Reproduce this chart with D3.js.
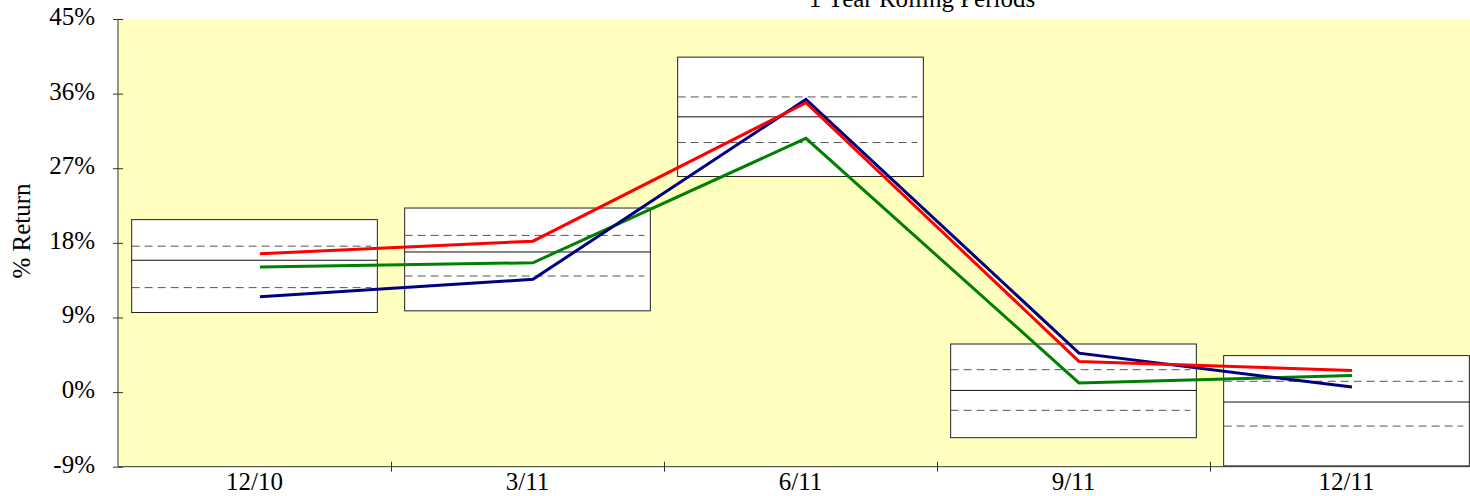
<!DOCTYPE html>
<html>
<head>
<meta charset="utf-8">
<script src="https://cdn.jsdelivr.net/npm/d3@7"></script>
<style>
  html, body { margin: 0; padding: 0; background: #ffffff; }
  svg { display: block; }
  text { font-family: "Liberation Serif", "Times New Roman", serif; fill: #000; }
</style>
</head>
<body>
<svg id="chart" width="1470" height="496"></svg>
<script>
// ---- data ----
const categories = ["12/10", "3/11", "6/11", "9/11", "12/11"];
const boxTop    = [20.8, 22.2, 40.4, 5.8, 4.4];
const boxUpper  = [17.6, 18.9, 35.6, 2.7, 1.3];
const boxMedian = [15.9, 16.9, 33.2, 0.2, -1.2];
const boxLower  = [12.6, 14.0, 30.1, -2.2, -4.1];
const boxBottom = [9.6, 9.8, 26.0, -5.5, -8.9];
const seriesRed   = [16.7, 18.2, 34.9, 3.7, 2.6];
const seriesGreen = [15.1, 15.6, 30.6, 1.1, 2.0];
const seriesBlue  = [11.5, 13.6, 35.3, 4.7, 0.6];
const yTicks = [-9, 0, 9, 18, 27, 36, 45];
const titleText = "1 Year Rolling Periods";
const yTitle = "% Return";

// ---- layout ----
const svg = d3.select("#chart");
const plotLeft = 118, plotTop = 19, plotBottom = 466.7, bandW = 273;
const x = d3.scaleBand().domain(categories).range([plotLeft, plotLeft + bandW * categories.length]).paddingInner(0).paddingOuter(0);
const y = d3.scaleLinear().domain([-9, 45]).range([plotBottom, plotTop]);
const bw = x.bandwidth();
const lineOffset = bw * 0.02;
const fontSize = 25;

// plot background
svg.append("rect")
  .attr("x", plotLeft).attr("y", plotTop)
  .attr("width", x.range()[1] - plotLeft).attr("height", plotBottom - plotTop)
  .attr("fill", "#FFFFC0");

// boxes
const boxes = svg.append("g");
categories.forEach((c, i) => {
  const bx = x(c) + bw * 0.05, bwid = bw * 0.9;
  boxes.append("rect")
    .attr("x", bx).attr("y", y(boxTop[i]))
    .attr("width", bwid).attr("height", y(boxBottom[i]) - y(boxTop[i]))
    .attr("fill", "#ffffff").attr("stroke", "#222").attr("stroke-width", 1);
  boxes.append("line")
    .attr("x1", bx).attr("x2", bx + bwid)
    .attr("y1", y(boxMedian[i])).attr("y2", y(boxMedian[i]))
    .attr("stroke", "#111").attr("stroke-width", 1);
  [boxUpper[i], boxLower[i]].forEach(v => {
    boxes.append("line")
      .attr("x1", bx).attr("x2", bx + bwid - 6)
      .attr("y1", y(v)).attr("y2", y(v))
      .attr("stroke", "#555").attr("stroke-width", 1)
      .attr("stroke-dasharray", "8,5");
  });
});

// lines
const line = d3.line()
  .x((d, i) => x(categories[i]) + bw / 2 + lineOffset)
  .y(d => y(d));
[[seriesGreen, "#008000"], [seriesBlue, "#000080"], [seriesRed, "#FF0000"]].forEach(([s, col]) => {
  svg.append("path").datum(s)
    .attr("d", line)
    .attr("fill", "none").attr("stroke", col).attr("stroke-width", 3)
    .attr("stroke-linejoin", "miter");
});

// y axis
const yAxis = svg.append("g").attr("transform", `translate(${plotLeft},0)`)
  .call(d3.axisLeft(y).tickValues(yTicks).tickFormat(d => d + "%").tickSize(5).tickPadding(18));
yAxis.select(".domain").attr("stroke", "#333").attr("d", `M0,${plotTop}V${plotBottom}`);
yAxis.selectAll(".tick line").attr("x1", -5).attr("x2", 5).attr("stroke", "#333");
yAxis.selectAll(".tick text")
  .style("font-family", '"Liberation Serif", serif').style("font-size", fontSize + "px")
  .attr("fill", "#000").attr("dy", "0.22em");

// x axis (labels)
const xAxis = svg.append("g").attr("transform", `translate(0,${plotBottom})`)
  .call(d3.axisBottom(x).tickSize(0).tickPadding(6));
xAxis.select(".domain").attr("stroke", "#333").attr("d", `M${plotLeft},0H1470`);
xAxis.selectAll(".tick text")
  .style("font-family", '"Liberation Serif", serif').style("font-size", fontSize + "px")
  .attr("fill", "#000");

// x axis separators at band boundaries
const xb = d3.scaleLinear().domain([0, categories.length]).range(x.range());
const sep = svg.append("g").attr("transform", `translate(0,${plotBottom})`)
  .call(d3.axisBottom(xb).tickValues(d3.range(1, categories.length)).tickFormat("").tickSize(5));
sep.select(".domain").remove();
sep.selectAll(".tick line").attr("y1", -5).attr("y2", 5).attr("stroke", "#333");

// titles
svg.append("text")
  .attr("x", 922).attr("y", 7)
  .attr("text-anchor", "middle")
  .style("font-size", fontSize + "px")
  .text(titleText);

svg.append("text")
  .attr("transform", `translate(30,231) rotate(-90)`)
  .attr("text-anchor", "middle")
  .style("font-size", fontSize + "px")
  .text(yTitle);
</script>
</body>
</html>
